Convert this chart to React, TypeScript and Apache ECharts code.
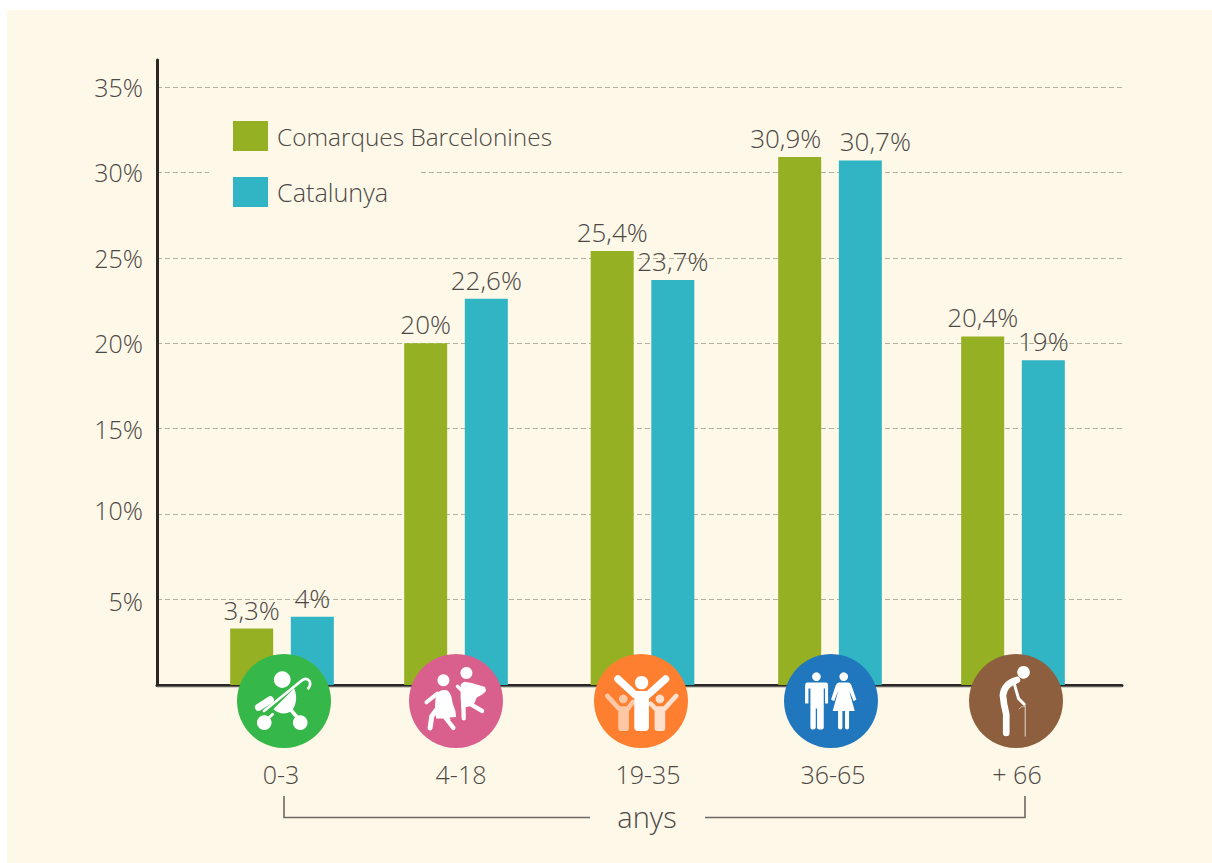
import React, { useEffect, useRef } from "react";
import * as echarts from "echarts";

const ageLabels = ["0-3", "4-18", "19-35", "36-65", "+ 66"];
const seriesNames = ["Comarques Barcelonines", "Catalunya"];
const barcelonines = [3.3, 20, 25.4, 30.9, 20.4];
const catalunya = [4, 22.6, 23.7, 30.7, 19];
const yTicks = [5, 10, 15, 20, 25, 30, 35];

// horizontal layout, in plot units (the x axis runs 1:1 with page pixels)
const groupCenters = [282, 456, 642.5, 830, 1013];
const labelCenters = [281, 461, 648, 833, 1017];
const iconCenters = [284, 456, 641, 831, 1016];
const iconColors = ["#36b749", "#d9608c", "#fd7f2f", "#2177bd", "#8d5f3f"];

const FONT = "'Open Sans'";
const TEXT = "#4c4845";
const GREEN = "#95b023";
const BLUE = "#31b4c3";
const BG = "#fef8e8";

type Ico = { cx: number; cy: number; parts: any[] };
const dot = (cx: number, cy: number, r: number, fill = "#fff") => ({ type: "circle", shape: { cx, cy, r }, style: { fill } });
const fillP = (d: string, fill = "#fff") => ({ type: "path", shape: { pathData: d }, style: { fill } });
const strokeP = (d: string, w: number, stroke = "#fff") => ({
  type: "path",
  shape: { pathData: d },
  style: { fill: "none", stroke, lineWidth: w, lineCap: "round", lineJoin: "round" },
});

const icons: Ico[] = [
  {
    cx: 252, cy: 182,
    parts: [
      dot(247, 118, 25), dot(193, 247, 22), dot(301, 247, 22),
      fillP("M220 207 L283 144 C293 170 290 198 272 214 C255 224 235 220 220 207 Z"),
      strokeP("M192 212 L300 125 Q318 108 329 122 Q334 134 325 144", 8),
      strokeP("M176 201 L211 179", 22),
      strokeP("M272 208 L300 240", 11),
      strokeP("M218 222 L200 240", 8),
    ],
  },
  {
    cx: 767, cy: 182,
    parts: [
      dot(730, 120, 18), dot(799, 98, 18),
      fillP("M708 162 Q722 145 740 150 Q754 156 758 190 L766 212 L768 230 L748 232 L752 240 L735 235 L708 235 Q702 200 708 162 Z"),
      strokeP("M679 186 L712 160", 12),
      strokeP("M690 263 L695 228 L712 205", 15),
      strokeP("M760 263 L730 225", 13),
      fillP("M782 132 L792 124 L815 128 L835 134 L855 140 L858 152 L848 162 L830 172 L820 196 L784 204 Q780 170 782 132 Z"),
      strokeP("M791 234 L790 195", 13),
      strokeP("M846 212 L815 194", 13),
      strokeP("M772 138 L790 155", 10),
    ],
  },
  {
    cx: 214, cy: 182,
    parts: [
      strokeP("M113 167 L148 205 H175 L190 185", 14, "#fdc8a6"),
      fillP("M146 205 H178 V264 Q178 272 170 272 H154 Q146 272 146 264 Z", "#fdc8a6"),
      dot(161, 176, 13, "#fdc8a6"),
      strokeP("M243 190 L258 205 H285 L320 167", 14, "#fee0cc"),
      fillP("M255 205 H287 V264 Q287 272 279 272 H263 Q255 272 255 264 Z", "#fee0cc"),
      dot(271, 176, 13, "#fee0cc"),
      strokeP("M145 116 L196 163 H236 L288 116", 22),
      fillP("M194 155 H238 V260 Q238 272 226 272 H206 Q194 272 194 260 Z"),
      dot(216, 127, 20),
    ],
  },
  {
    cx: 783, cy: 182,
    parts: [
      dot(740, 109, 13), dot(822, 109, 13),
      fillP("M712 127 H768 Q775 127 775 135 V190 H766 V145 H762 V262 Q762 268 755 268 H748 Q742 268 742 262 V205 H738 V262 Q738 268 730 268 H728 Q722 268 722 262 V145 H716 V190 H706 V135 Q706 127 712 127 Z"),
      fillP("M808 127 H836 Q842 127 845 135 L860 178 L852 183 L838 150 L855 212 H838 V262 Q838 268 832 268 Q826 268 826 262 V212 H818 V262 Q818 268 812 268 Q805 268 805 262 V212 H789 L806 150 L793 183 L784 178 L798 135 Q802 127 808 127 Z"),
    ],
  },
  {
    cx: 347, cy: 182,
    parts: [
      dot(370, 96, 19),
      strokeP("M350 119 Q312 130 308 165 Q310 190 318 222 L318 278", 20),
      strokeP("M342 130 L355 175 L372 192", 9),
      strokeP("M375 198 V288", 3, "#e6d9cc"),
      strokeP("M375 198 Q360 198 356 206", 2, "#e6d9cc"),
    ],
  },
];

const labelOffsets: Record<string, number[]> = { "30.9": [-14, 0], "30.7": [15, 0] };

const barData = (vals: number[]) =>
  vals.map((v, i) => ({
    value: [groupCenters[i], v],
    label: labelOffsets[String(v)] ? { offset: labelOffsets[String(v)] } : undefined,
  }));

const barSeries = (name: string, vals: number[], color: string) => ({
  type: "bar",
  name,
  data: barData(vals),
  barWidth: 43,
  barGap: "41%",
  itemStyle: { color },
  z: 2,
  label: {
    show: true,
    position: "top",
    distance: 6,
    color: TEXT,
    fontFamily: FONT,
    fontWeight: 300,
    fontSize: 26,
    formatter: (p: any) => String(p.value[1]).replace(".", ",") + "%",
  },
});

export default function App() {
  const ref = useRef<HTMLDivElement>(null);
  useEffect(() => {
    document.body.style.margin = "0";
    const chart = echarts.init(ref.current!, null, { renderer: "svg" });
    const legendText = { color: TEXT, fontFamily: FONT, fontWeight: 300 };
    chart.setOption({
      animation: false,
      backgroundColor: "#ffffff",
      grid: { left: 157, top: 60, width: 965, height: 625 },
      legend: {
        left: 233,
        top: 121,
        orient: "vertical",
        itemWidth: 35,
        itemHeight: 30,
        itemGap: 26,
        padding: 0,
        icon: "rect",
        data: [
          { name: seriesNames[0], textStyle: { ...legendText, fontSize: 24.4, padding: [6, 0, 0, 4] } },
          { name: seriesNames[1], textStyle: { ...legendText, fontSize: 25.2, padding: [0, 0, 0, 4] } },
        ],
        textStyle: legendText,
      },
      xAxis: {
        type: "value",
        min: 157,
        max: 1122,
        splitLine: { show: false },
        axisLine: { show: true, onZero: false, lineStyle: { color: "#2b2624", width: 3 } },
        axisTick: { show: false, customValues: labelCenters },
        axisLabel: {
          customValues: labelCenters,
          formatter: (v: number) => ageLabels[labelCenters.indexOf(v)] ?? "",
          margin: 76,
          color: TEXT,
          fontFamily: FONT,
          fontWeight: 300,
          fontSize: 25,
        },
      },
      yAxis: {
        type: "value",
        min: 0,
        max: 625 / (598 / 35),
        axisLine: { show: true, onZero: false, lineStyle: { color: "#2b2624", width: 3 } },
        axisTick: { show: false, customValues: yTicks },
        axisLabel: {
          customValues: yTicks,
          formatter: (v: number) => (v === 10 ? `{up|${v}%}` : v === 5 ? `{down|${v}%}` : `${v}%`),
          margin: 14,
          color: TEXT,
          fontFamily: FONT,
          fontWeight: 300,
          fontSize: 25,
          rich: {
            up: { padding: [0, 0, 9, 0], fontSize: 25, fontWeight: 300, fontFamily: FONT, color: TEXT },
            down: { padding: [2, 0, 0, 0], fontSize: 25, fontWeight: 300, fontFamily: FONT, color: TEXT },
          },
        },
        splitLine: { show: true, lineStyle: { color: "#b2b39e", width: 1, type: [5, 3] } },
      },
      series: [
        barSeries(seriesNames[0], barcelonines, GREEN),
        barSeries(seriesNames[1], catalunya, BLUE),
        {
          type: "custom",
          z: 6,
          silent: true,
          legendHoverLink: false,
          clip: false,
          data: iconCenters.map((x) => [x, 0]),
          encode: { x: 0, y: 1 },
          renderItem: (params: any, api: any) => {
            const i = params.dataIndex;
            const p = api.coord([api.value(0), api.value(1)]);
            const ic = icons[i];
            return {
              type: "group",
              x: p[0],
              y: p[1] + 16,
              children: [
                { type: "circle", shape: { cx: 0, cy: 0, r: 47 }, style: { fill: iconColors[i] } },
                { type: "group", scaleX: 1 / 3, scaleY: 1 / 3, x: -ic.cx / 3, y: -ic.cy / 3, children: ic.parts },
              ],
            };
          },
        },
      ],
      graphic: [
        { type: "rect", z: -10, shape: { x: 7, y: 10, width: 1205, height: 853 }, style: { fill: BG } },
        { type: "rect", z: 1, shape: { x: 209, y: 168, width: 209, height: 8 }, style: { fill: BG } },
        { type: "line", z: 1, shape: { x1: 157, y1: 687, x2: 1122, y2: 687 }, style: { stroke: "#a5a29b", lineWidth: 1 } },
        {
          type: "polyline", z: 1,
          shape: { points: [[284, 796], [284, 817.5], [590, 817.5]] },
          style: { fill: "none", stroke: "#6b6865", lineWidth: 1.6 },
        },
        {
          type: "polyline", z: 1,
          shape: { points: [[705, 817.5], [1025, 817.5], [1025, 796]] },
          style: { fill: "none", stroke: "#6b6865", lineWidth: 1.6 },
        },
        {
          type: "text", z: 1, x: 647, y: 816,
          style: { text: "anys", fill: TEXT, font: `300 29px ${FONT}`, textAlign: "center", textVerticalAlign: "middle" },
        },
      ],
    });
    return () => chart.dispose();
  }, []);
  return <div ref={ref} style={{ width: 1212, height: 863 }} />;
}
